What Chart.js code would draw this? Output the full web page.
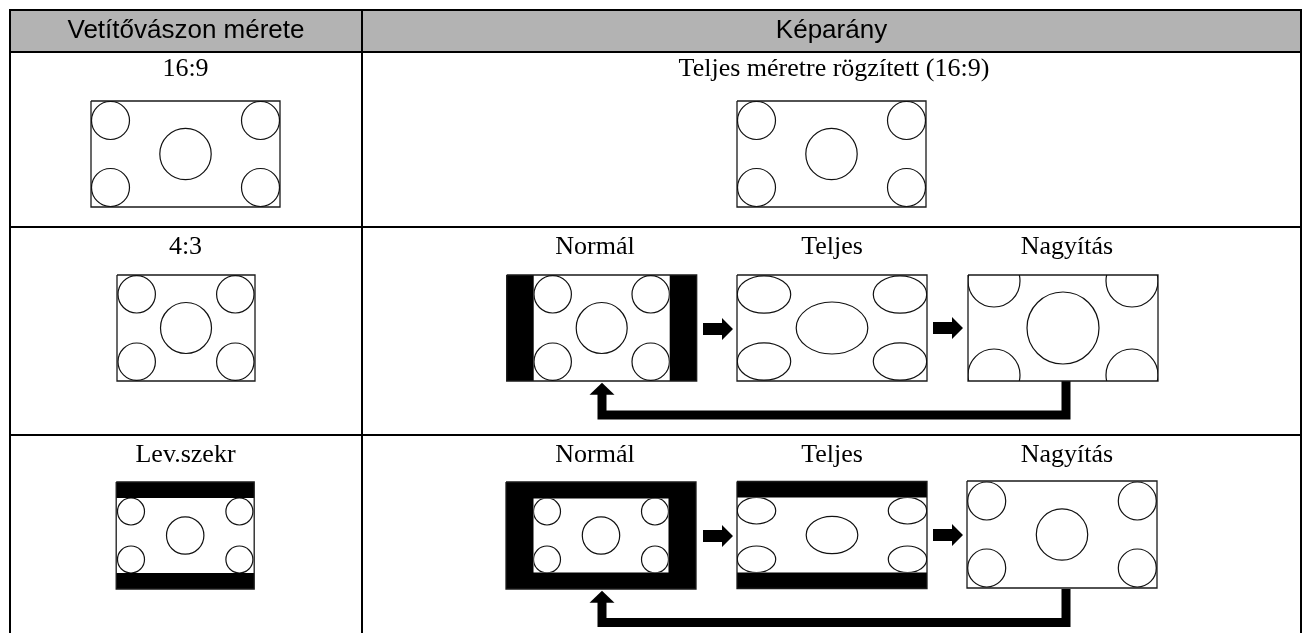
<!DOCTYPE html>
<html>
<head>
<meta charset="utf-8">
<script src="https://cdn.jsdelivr.net/npm/chart.js@4.4.0/dist/chart.umd.min.js"></script>
<style>
html, body { margin: 0; padding: 0; background: #fff; }
#diagram { display: block; }
</style>
</head>
<body>
<canvas id="diagram" width="1308" height="633"></canvas>
<script>
// Texts
const headerLabels = ['Vetítővászon mérete', 'Képarány'];
const screenLabels = ['16:9', '4:3', 'Lev.szekr'];
const modeLabels = ['Normál', 'Teljes', 'Nagyítás'];
const fixedLabel = 'Teljes méretre rögzített (16:9)';

// Table grid
const colEdges = [10, 362, 1301];
const rowEdges = [10, 52, 227, 435];
const tableBottom = 633;

// Label anchors (baselines per row, x centres)
const labelBaselines = [76, 254, 462];
const screenLabelX = 185.5;
const fixedLabelX = 834;
const modeLabelX = [595, 832, 1067];

// Pictures: centre, size, black bars [side, top], corner shapes [dx, dy, rx, ry], centre shape [rx, ry]
const pictureCenters = [[185.5, 154], [831.5, 154], [186, 328], [601.7, 328], [832, 328], [1063, 328],
                        [185.2, 535.5], [601, 535.5], [832, 535], [1062, 534.5]];
const pictureSizes = [[189, 106], [189, 106], [138, 106], [190, 106], [190, 106], [190, 106],
                      [138, 107], [190, 107], [190, 107], [190, 107]];
const pictureBars = [[0, 0], [0, 0], [0, 0], [27, 0], [0, 0], [0, 0],
                     [0, 16], [27.5, 16.5], [0, 16], [0, 0]];
const cornerShapes = [[75, 33.5, 19, 19], [75, 33.5, 19, 19], [49.3, 33.7, 18.7, 18.7], [49, 33.7, 18.7, 18.7],
                      [68, 33.5, 26.7, 18.7], [69, 47, 26, 26], [54.2, 24, 13.5, 13.5], [54, 24, 13.5, 13.5],
                      [75.5, 24.3, 19.2, 13.3], [75.3, 33.5, 19, 19]];
const centerShapes = [[25.7, 25.7], [25.7, 25.7], [25.5, 25.5], [25.5, 25.5], [35.8, 26], [36, 36],
                      [18.7, 18.7], [18.7, 18.7], [25.8, 18.7], [25.7, 25.7]];

// Arrows: right arrows [x, y], return loops [fromX, fromY, bottomY, toX, tipY]
const rightArrows = [[703, 329], [933, 328], [703, 536], [933, 535]];
const returnLoops = [[1066, 381, 415, 602, 382.7], [1066, 589, 622.5, 602, 590.7]];

const xy = (x, y) => ({ x: x, y: y });
const datasets = [];

const addPath = (points, style) =>
{
    datasets.push(Object.assign({
        data: points,
        pointRadius: 0,
        tension: 0,
        fill: false,
        borderWidth: 0,
        borderColor: 'rgba(0,0,0,0)',
        order: 1
    }, style));
}

const box = (l, t, r, b) => [xy(l, t), xy(r, t), xy(r, b), xy(l, b), xy(l, t)];

// Header background
addPath(box(colEdges[0], rowEdges[0], colEdges[2], rowEdges[1]), { fill: 'shape', backgroundColor: '#b3b3b3', order: 10 });

// Table lines
rowEdges.forEach((y) =>
{
    addPath([xy(colEdges[0] - 1, y), xy(colEdges[2] + 1, y)], { borderWidth: 2, borderColor: '#000' });
});
colEdges.forEach((x) =>
{
    addPath([xy(x, rowEdges[0]), xy(x, tableBottom)], { borderWidth: 2, borderColor: '#000' });
});

// Screen pictures: bars and frames
pictureCenters.forEach((c, i) =>
{
    const [w, h] = pictureSizes[i];
    const [side, top] = pictureBars[i];
    const l = c[0] - w / 2, r = c[0] + w / 2, t = c[1] - h / 2, b = c[1] + h / 2;

    if (side > 0)
    {
        addPath(box(l, t, l + side, b), { fill: 'shape', backgroundColor: '#000', order: 5 });
        addPath(box(r - side, t, r, b), { fill: 'shape', backgroundColor: '#000', order: 5 });
    }
    if (top > 0)
    {
        addPath(box(l, t, r, t + top), { fill: 'shape', backgroundColor: '#000', order: 5 });
        addPath(box(l, b - top, r, b), { fill: 'shape', backgroundColor: '#000', order: 5 });
    }

    addPath(box(l, t, r, b), { borderWidth: 1.3, borderColor: '#1a1a1a', borderJoinStyle: 'miter' });
});

// Right arrows
rightArrows.forEach(([x, y]) =>
{
    addPath([xy(x, y - 6), xy(x + 19, y - 6), xy(x + 19, y - 11), xy(x + 30, y), xy(x + 19, y + 11),
             xy(x + 19, y + 6), xy(x, y + 6), xy(x, y - 6)],
            { fill: 'shape', backgroundColor: '#000', order: 2 });
});

// Return arrows
returnLoops.forEach(([fx, fy, by, tx, tip]) =>
{
    addPath([xy(fx, fy), xy(fx, by), xy(tx, by), xy(tx, tip + 11)],
            { borderWidth: 9, borderColor: '#000', borderJoinStyle: 'miter', borderCapStyle: 'butt', order: 2 });
    addPath([xy(tx - 12.5, tip + 12), xy(tx, tip), xy(tx + 12.5, tip + 12), xy(tx - 12.5, tip + 12)],
            { fill: 'shape', backgroundColor: '#000', order: 2 });
});

// Circles / ellipses and texts, placed through the chart scales
const diagramPlugin =
{
    id: 'diagramPlugin',
    afterDatasetsDraw(chart)
    {
        const ctx = chart.ctx;
        const sx = chart.scales.x, sy = chart.scales.y;
        const px = (v) => sx.getPixelForValue(v);
        const py = (v) => sy.getPixelForValue(v);

        pictureCenters.forEach((c, i) =>
        {
            const [w, h] = pictureSizes[i];
            const [side, top] = pictureBars[i];
            const [dx, dy, crx, cry] = cornerShapes[i];
            const [mrx, mry] = centerShapes[i];
            const l = px(c[0] - w / 2 + side), r = px(c[0] + w / 2 - side);
            const t = py(c[1] - h / 2 + top), b = py(c[1] + h / 2 - top);

            ctx.save();
            ctx.beginPath();
            ctx.rect(l, t, r - l, b - t);
            ctx.clip();
            ctx.strokeStyle = '#111';
            ctx.lineWidth = 1.2;

            const shapes = [[-dx, -dy, crx, cry], [dx, -dy, crx, cry], [-dx, dy, crx, cry], [dx, dy, crx, cry], [0, 0, mrx, mry]];
            shapes.forEach(([ox, oy, rx, ry]) =>
            {
                const cx = px(c[0] + ox), cy = py(c[1] + oy);
                ctx.beginPath();
                ctx.ellipse(cx, cy, Math.abs(px(c[0] + ox + rx) - cx), Math.abs(py(c[1] + oy + ry) - cy), 0, 0, Math.PI * 2);
                ctx.stroke();
            });
            ctx.restore();
        });

        ctx.save();
        ctx.fillStyle = '#000';
        ctx.textAlign = 'center';
        ctx.textBaseline = 'alphabetic';

        ctx.font = '26px "Liberation Sans", Arial, sans-serif';
        ctx.fillText(headerLabels[0], px((colEdges[0] + colEdges[1]) / 2), py(38));
        ctx.fillText(headerLabels[1], px((colEdges[1] + colEdges[2]) / 2), py(38));

        ctx.font = '26px "Liberation Serif", "Times New Roman", serif';
        screenLabels.forEach((s, i) =>
        {
            ctx.fillText(s, px(screenLabelX), py(labelBaselines[i]));
        });
        ctx.fillText(fixedLabel, px(fixedLabelX), py(labelBaselines[0]));
        [1, 2].forEach((row) =>
        {
            modeLabels.forEach((m, j) =>
            {
                ctx.fillText(m, px(modeLabelX[j]), py(labelBaselines[row]));
            });
        });
        ctx.restore();
    }
};

new Chart(document.getElementById('diagram'),
{
    type: 'scatter',
    data: { datasets: datasets.map((d) => Object.assign({ showLine: true }, d)) },
    options:
    {
        responsive: false,
        animation: false,
        devicePixelRatio: 1,
        events: [],
        layout: { padding: 0 },
        plugins: { legend: { display: false }, tooltip: { enabled: false } },
        scales:
        {
            x: { type: 'linear', min: 0, max: 1308, display: false },
            y: { type: 'linear', min: 0, max: 633, reverse: true, display: false }
        }
    },
    plugins: [diagramPlugin]
});
</script>
</body>
</html>
